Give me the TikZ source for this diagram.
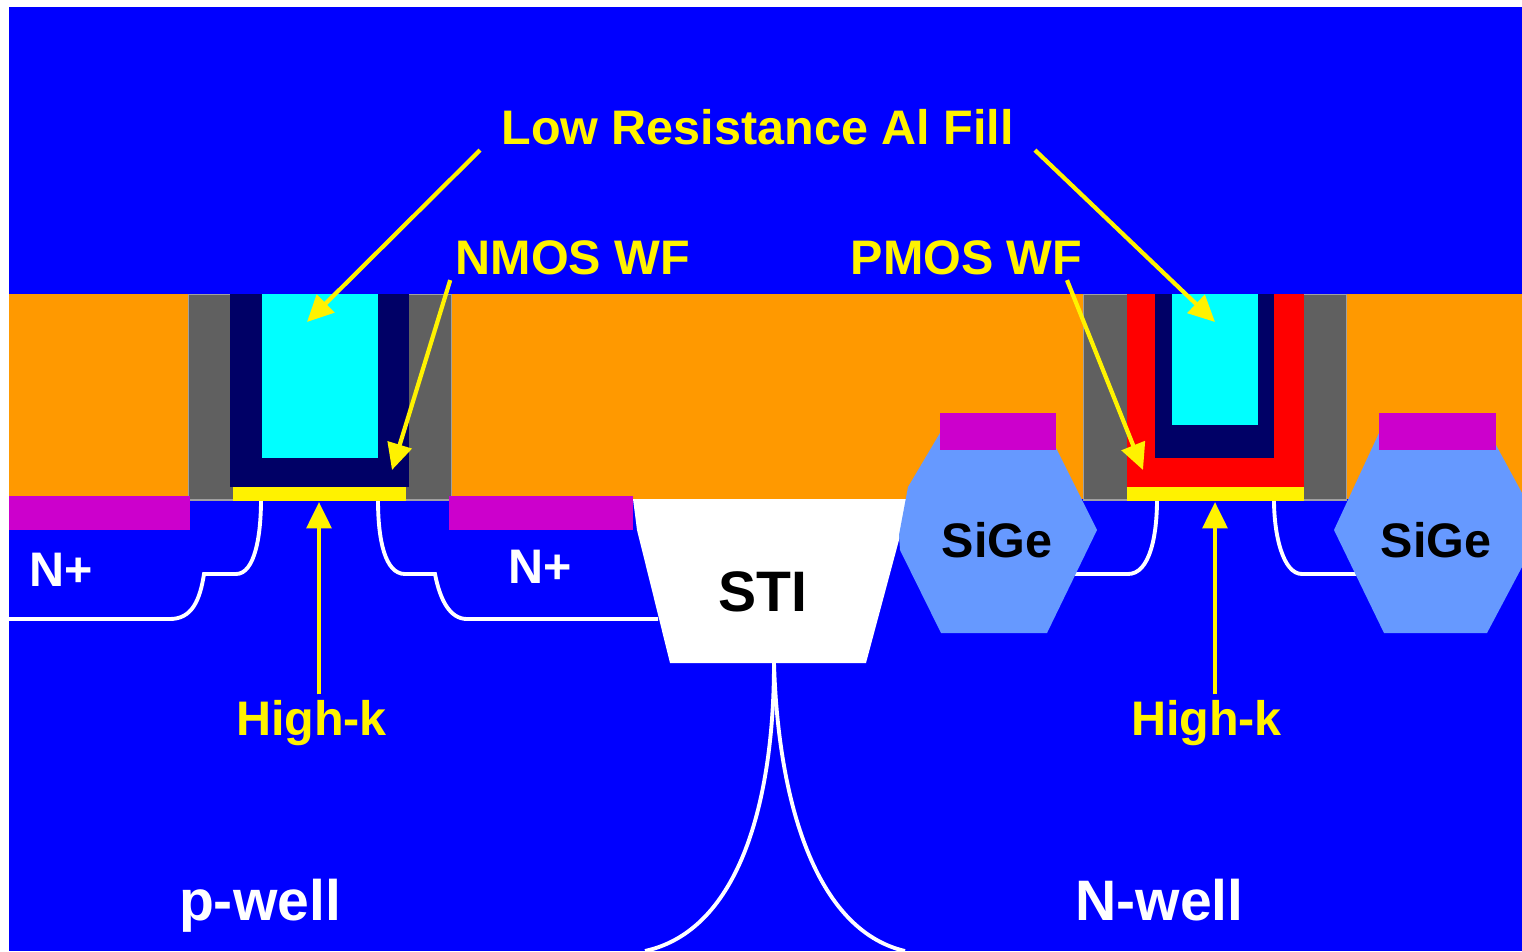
\documentclass[tikz,border=0pt]{standalone}
\usepackage{xcolor}
\usepackage{fontspec}
\setmainfont{Liberation Sans}
\usetikzlibrary{arrows.meta}
\definecolor{wellblue}{HTML}{0000FF}
\definecolor{oxide}{HTML}{FF9900}
\definecolor{silicide}{HTML}{CC00CC}
\definecolor{spacer}{HTML}{606060}
\definecolor{spaceredge}{HTML}{A0A0A0}
\definecolor{nmoswf}{HTML}{000066}
\definecolor{alfill}{HTML}{00FFFF}
\definecolor{sige}{HTML}{6699FF}
\begin{document}
\begin{tikzpicture}[x=0.02cm,y=-0.02cm,
  label/.style={anchor=base, inner sep=3pt, font=\fontsize{27.6}{30}\selectfont\bfseries, text=#1},
  biglabel/.style={label=#1, font=\fontsize{32.5}{36}\selectfont\bfseries},
  arrow/.style={-{Triangle[width=14pt,length=15pt]}, yellow, line width=2.4pt},
  junction/.style={white, line width=2.2pt},
  gatespacer/.style={fill=spacer, draw=spaceredge, line width=1pt}
]
  \useasboundingbox (0,0) rectangle (1522,951);
  \fill[wellblue] (9,7) rectangle (1522,951);
  \fill[oxide]    (9,294) rectangle (1522,499);

  % STI and well boundary
  \fill[white] (633,499) -- (637,530) -- (670,663) -- (866,663) -- (910,499) -- cycle;
  \draw[junction] (774,663) .. controls (774,800) and (740,930) .. (645,951);
  \draw[junction] (774,663) .. controls (778,800) and (815,930) .. (905,951);

  % junctions
  \draw[junction] (261,500) .. controls (261,535) and (255,574) .. (236,574) -- (204,574)
    .. controls (200,600) and (192,619) .. (170,619) -- (9,619);
  \draw[junction] (378,500) .. controls (378,540) and (385,574) .. (405,574) -- (435,574)
    .. controls (440,600) and (450,619) .. (467,619) -- (658,619);
  \draw[junction] (1157,500) .. controls (1157,535) and (1150,574) .. (1128,574) -- (1075,574);
  \draw[junction] (1274,500) .. controls (1274,535) and (1283,574) .. (1302,574) -- (1360,574);

  % NMOS gate
  \filldraw[gatespacer] (188.5,294.5) rectangle (451.5,500);
  \fill[nmoswf] (230,294) rectangle (409,487);
  \fill[alfill] (262,294) rectangle (378,458);
  \fill[yellow] (233,487) rectangle (406,501);

  % PMOS gate
  \filldraw[gatespacer] (1083.5,294.5) rectangle (1346.5,500);
  \fill[red]    (1127,294) rectangle (1304,487);
  \fill[nmoswf] (1155,294) rectangle (1274,458);
  \fill[alfill] (1172,294) rectangle (1258,425);
  \fill[yellow] (1127,487) rectangle (1304,501);

  % contacts
  \fill[silicide] (9,496) rectangle (190,530);
  \fill[silicide] (449,496) rectangle (633,530);

  % raised source/drain
  \fill[sige] (940,433) -- (908,487) -- (899,535) -- (900,550) -- (941,633) -- (1047,633) -- (1097,530) -- (1056,448) -- cycle;
  \fill[sige] (1379,433) -- (1334,530) -- (1384,633) -- (1487,633) -- (1522,567) -- (1522,493) -- (1496,445) -- cycle;
  \fill[silicide] (940,413) rectangle (1056,450);
  \fill[silicide] (1379,413) rectangle (1496,450);

  \node[label=yellow, inner xsep=12pt] (lowfill) at (757.5,144) {Low Resistance Al Fill};
  \node[label=yellow] (nmos)  at (573,274) {NMOS WF};
  \node[label=yellow] (pmos)  at (966.5,274) {PMOS WF};
  \node[label=yellow] (hkn)   at (311.5,735) {High-k};
  \node[label=yellow] (hkp)   at (1206.5,735) {High-k};
  \node[label=white]  (nleft) at (61,586) {N+};
  \node[label=white]  (nmid)  at (540,583) {N+};
  \node[biglabel=white] (pwell) at (260,920) {p-well};
  \node[biglabel=white] (nwell) at (1159.5,920) {N-well};
  \node[biglabel=black] (sti)   at (762.5,611) {STI};
  \node[label=black]  (sige1) at (997,557) {SiGe};
  \node[label=black]  (sige2) at (1436,557) {SiGe};

  \coordinate (fillntip) at (307,322);
  \coordinate (fillptip) at (1215,322);
  \coordinate (wfntip)   at (392,470);
  \coordinate (wfptip)   at (1143,470);
  \coordinate (hkntip)   at (319,502);
  \coordinate (hkptip)   at (1215,502);

  \draw[arrow] (lowfill.south west) -- (fillntip);
  \draw[arrow] (lowfill.south east) -- (fillptip);
  \draw[arrow] (nmos.south west)    -- (wfntip);
  \draw[arrow] (pmos.south -| 1067,0) -- (wfptip);
  \draw[arrow] (hkn.north -| hkntip)  -- (hkntip);
  \draw[arrow] (hkp.north -| hkptip)  -- (hkptip);
\end{tikzpicture}
\end{document}
